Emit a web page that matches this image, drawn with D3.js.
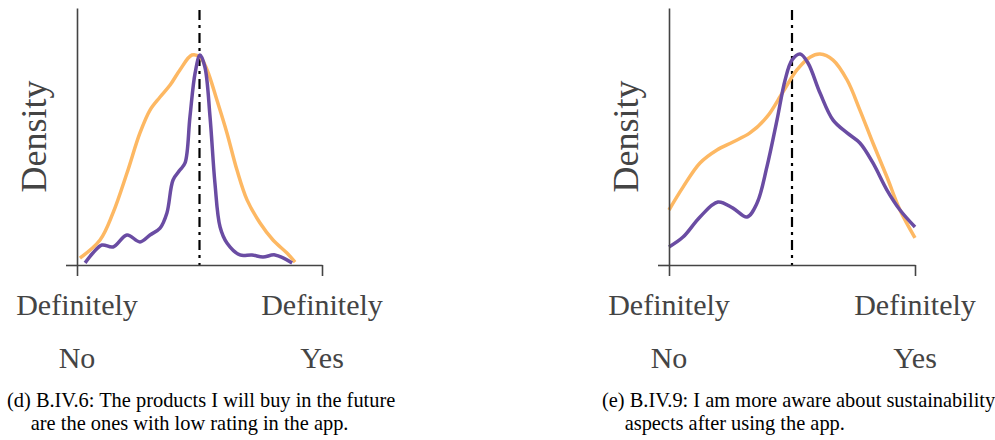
<!DOCTYPE html>
<html><head><meta charset="utf-8">
<script src="https://cdn.jsdelivr.net/npm/d3@7"></script>
<style>body{margin:0;background:#fff}svg{display:block}</style>
</head><body>
<script>
// ---- data ----
const tickLabels = [["Definitely", "No"], ["Definitely", "Yes"]];
const tickValues = [0, 1];
const midline = 0.5;
const yLabel = "Density";

const leftOrange = [[0.012,0.033],[0.094,0.119],[0.147,0.248],[0.204,0.438],[0.257,0.629],[0.298,0.738],[0.339,0.8],[0.38,0.857],[0.42,0.929],[0.469,1.0],[0.502,0.99],[0.531,0.929],[0.571,0.786],[0.612,0.629],[0.653,0.452],[0.694,0.31],[0.747,0.2],[0.8,0.119],[0.857,0.057],[0.89,0.014]];
const leftPurple = [[0.033,0.01],[0.065,0.057],[0.102,0.095],[0.147,0.086],[0.204,0.143],[0.257,0.11],[0.298,0.143],[0.339,0.176],[0.367,0.248],[0.392,0.405],[0.42,0.452],[0.441,0.486],[0.461,0.705],[0.482,0.914],[0.502,1.0],[0.522,0.943],[0.543,0.705],[0.563,0.39],[0.584,0.181],[0.612,0.105],[0.665,0.048],[0.714,0.048],[0.759,0.038],[0.808,0.048],[0.878,0.01]];
const rightOrange = [[0,0.262],[0.057,0.371],[0.126,0.486],[0.195,0.548],[0.26,0.586],[0.329,0.629],[0.398,0.705],[0.463,0.824],[0.52,0.929],[0.573,0.99],[0.614,1.005],[0.667,0.976],[0.724,0.881],[0.776,0.738],[0.829,0.581],[0.886,0.419],[0.939,0.262],[1.0,0.129]];
const rightPurple = [[0,0.086],[0.057,0.133],[0.126,0.229],[0.199,0.3],[0.26,0.271],[0.317,0.229],[0.358,0.295],[0.398,0.467],[0.439,0.69],[0.472,0.881],[0.5,0.976],[0.533,1.005],[0.565,0.962],[0.614,0.819],[0.667,0.69],[0.724,0.629],[0.776,0.581],[0.829,0.486],[0.886,0.357],[0.939,0.262],[1.0,0.181]];

const captionLeft = ["(d) ", "B.IV.6: The products I will buy in the future", "are the ones with low rating in the app."];
const captionRight = ["(e) ", "B.IV.9: I am more aware about sustainability", "aspects after using the app."];

const colors = {orange: "#fdb863", purple: "#6a4ca3"};
const serif = "'Liberation Serif', 'Times New Roman', serif";

const svg = d3.select("body").append("svg").attr("width", 995).attr("height", 440);

function panel(x0, x1, series, caption, capX) {
  const x = d3.scaleLinear().domain([0, 1]).range([x0, x1]);
  const y = d3.scaleLinear().domain([0, 1.224]).range([265, 8]);
  const g = svg.append("g");

  // midline
  g.append("line").attr("x1", x(midline)).attr("x2", x(midline))
    .attr("y1", y(1.224) + 2).attr("y2", y(0))
    .attr("stroke", "#000").attr("stroke-width", 2.2).attr("stroke-dasharray", "10,5,3,5");

  const line = d3.line().x(d => x(d[0])).y(d => y(d[1])).curve(d3.curveCatmullRom.alpha(0.5));
  series.forEach(s => {
    g.append("path").attr("d", line(s.data)).attr("fill", "none")
      .attr("stroke", s.color).attr("stroke-width", 3.5).attr("stroke-linecap", "butt");
  });

  // axes
  const xa = g.append("g").attr("transform", `translate(0,${y(0)})`)
    .call(d3.axisBottom(x).tickValues(tickValues).tickSize(11).tickSizeOuter(0).tickFormat(""));
  const ya = g.append("g").attr("transform", `translate(${x(0)},0)`)
    .call(d3.axisLeft(y).tickValues([0]).tickSize(11).tickSizeOuter(0).tickFormat(""));
  [xa, ya].forEach(a => {
    a.selectAll("path,line").attr("stroke", "#444").attr("stroke-width", 1.6);
  });

  // tick labels
  tickValues.forEach((v, i) => {
    const t = g.append("text").attr("x", x(v)).attr("text-anchor", "middle")
      .attr("font-family", serif).attr("font-size", 30).attr("fill", "#444");
    t.append("tspan").attr("x", x(v)).attr("y", 315).text(tickLabels[i][0]);
    t.append("tspan").attr("x", x(v)).attr("y", 368).text(tickLabels[i][1]);
  });

  // y label
  g.append("text").attr("transform", `translate(${x(0) - 31},${(y(0) + y(1.224)) / 2}) rotate(-90)`)
    .attr("text-anchor", "middle").attr("font-family", serif).attr("font-size", 36)
    .attr("fill", "#444").text(yLabel);

  // caption
  const c = g.append("text").attr("font-family", serif).attr("font-size", 20.4).attr("fill", "#000");
  const t1 = c.append("tspan").attr("x", capX).attr("y", 407).text(caption[0]);
  const prefixW = t1.node().getComputedTextLength();
  c.append("tspan").text(caption[1]);
  c.append("tspan").attr("x", capX + prefixW).attr("y", 430).text(caption[2]);
}

panel(77, 322, [{data: leftOrange, color: colors.orange}, {data: leftPurple, color: colors.purple}], captionLeft, 7);
panel(669, 915, [{data: rightOrange, color: colors.orange}, {data: rightPurple, color: colors.purple}], captionRight, 602);
</script>
</body></html>
